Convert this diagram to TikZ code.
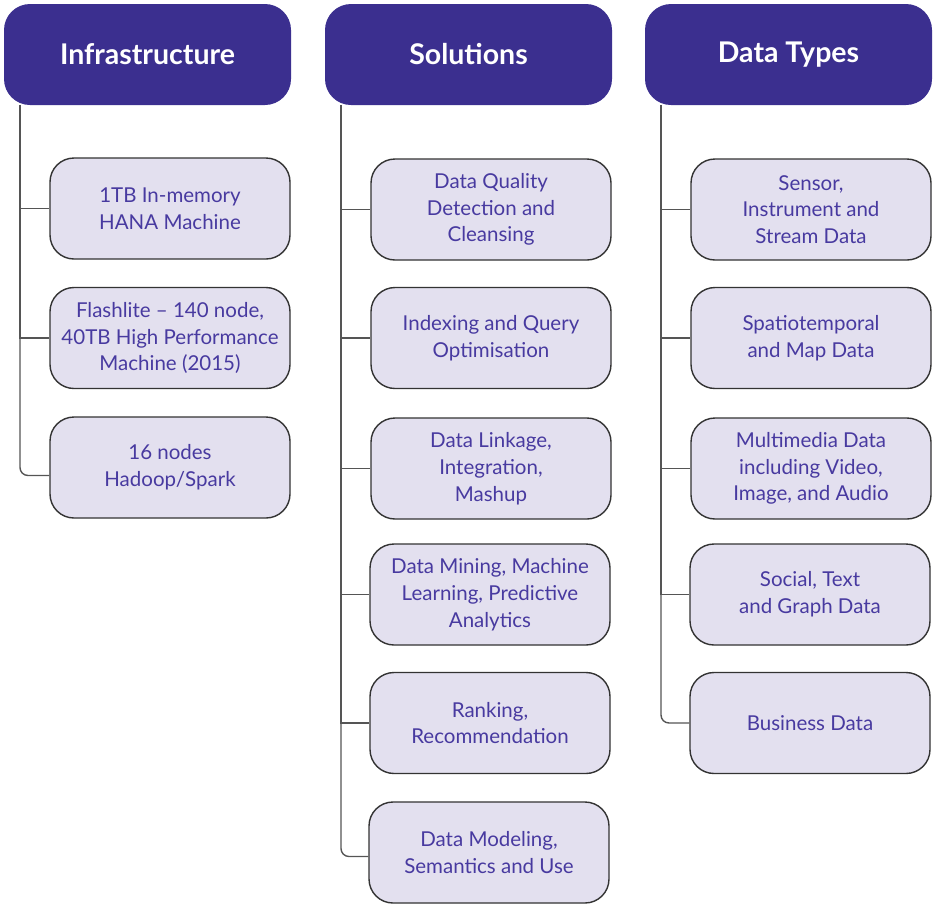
\documentclass[tikz,border=0pt]{standalone}
\usepackage{fontspec}
\setmainfont{Lato}
\definecolor{hdr}{RGB}{59,47,143}
\definecolor{boxfill}{RGB}{227,224,239}
\definecolor{boxtext}{RGB}{72,58,160}
\definecolor{trunk}{RGB}{85,85,85}
\tikzset{
  hdrbox/.style={fill=hdr, draw=none, rounded corners=26pt, minimum width=287pt, minimum height=101pt, text=white, font=\fontsize{28.5}{30}\selectfont\bfseries, inner sep=0pt},
  itembox/.style={fill=boxfill, draw=black!80, line width=1.4pt, rounded corners=24pt, minimum width=240pt, minimum height=101pt, text=boxtext, align=center, font=\fontsize{20.5}{26.8}\selectfont, inner sep=0pt},
  conn/.style={draw=trunk, line width=1.4pt}
}
\begin{document}
\begin{tikzpicture}[x=1pt,y=-1pt]
\useasboundingbox (0,0) rectangle (936,906);
% headers
\node[hdrbox] (h1) at (147.5,54.5) {Infrastructure};
\node[hdrbox] (h2) at (468.5,54.5) {Solutions};
\node[hdrbox] (h3) at (788.5,54.5) {Data Types};
\coordinate (t1) at (20,105);
\coordinate (t2) at (341,105);
\coordinate (t3) at (661,105);
% column 1
\node[itembox] (a1) at (170,208.5) {1TB In-memory\\HANA Machine};
\node[itembox] (a2) at (170,338) {Flashlite -- 140 node,\\40TB High Performance\\Machine (2015)};
\node[itembox] (a3) at (170,467.5) {16 nodes\\Hadoop/Spark};
% column 2
\node[itembox] (b1) at (491,209.5) {Data Quality\\Detection and\\Cleansing};
\node[itembox] (b2) at (491,338) {Indexing and Query\\Optimisation};
\node[itembox] (b3) at (491,468.5) {Data Linkage,\\Integration,\\Mashup};
\node[itembox] (b4) at (490,594.5) {Data Mining, Machine\\Learning, Predictive\\Analytics};
\node[itembox] (b5) at (490,723) {Ranking,\\Recommendation};
\node[itembox] (b6) at (489,852.5) {Data Modeling,\\Semantics and Use};
% column 3
\node[itembox] (c1) at (811,209.5) {Sensor,\\Instrument and\\Stream Data};
\node[itembox] (c2) at (811,338) {Spatiotemporal\\and Map Data};
\node[itembox] (c3) at (811,468.5) {Multimedia Data\\including Video,\\Image, and Audio};
\node[itembox] (c4) at (810,594.5) {Social, Text\\and Graph Data};
\node[itembox] (c5) at (810,723) {Business Data};
% connectors
\draw[conn] (t1) |- (a1.west);
\draw[conn] (t1) |- (a2.west);
\draw[conn, rounded corners=8pt] (t1) |- ([yshift=-8pt]a3.west);
\draw[conn] (t2) |- (b1.west);
\draw[conn] (t2) |- (b2.west);
\draw[conn] (t2) |- (b3.west);
\draw[conn] (t2) |- (b4.west);
\draw[conn] (t2) |- (b5.west);
\draw[conn, rounded corners=8pt] (t2) |- ([yshift=-4pt]b6.west);
\draw[conn] (t3) |- (c1.west);
\draw[conn] (t3) |- (c2.west);
\draw[conn] (t3) |- (c3.west);
\draw[conn] (t3) |- (c4.west);
\draw[conn, rounded corners=8pt] (t3) |- (c5.west);
\end{tikzpicture}
\end{document}
